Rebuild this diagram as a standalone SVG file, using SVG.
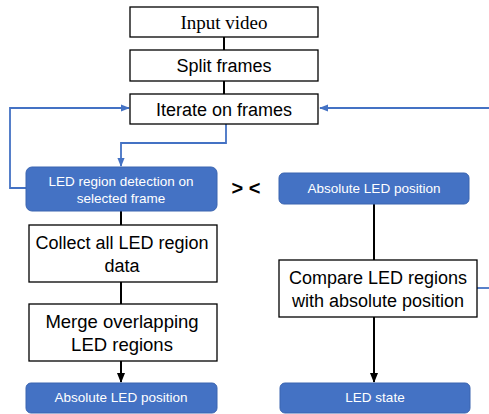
<svg xmlns="http://www.w3.org/2000/svg" width="489" height="414" viewBox="0 0 489 414">
<defs>
<marker id="ab" viewBox="0 0 10 10" refX="9" refY="5" markerWidth="5" markerHeight="5" orient="auto"><path d="M0,1 L10,5 L0,9 z" fill="#4472C4"/></marker>
<marker id="ak" viewBox="0 0 10 10" refX="9" refY="5" markerWidth="5" markerHeight="5" orient="auto"><path d="M0,1 L10,5 L0,9 z" fill="#000"/></marker>
</defs>
<style>
.w{fill:#fff;stroke:#000;stroke-width:1.3}
.b{fill:#4472C4;stroke:#3a64b0;stroke-width:1}
.t{font-family:"Liberation Sans",Arial,sans-serif;font-size:18px;fill:#000;text-anchor:middle}
.s{font-family:"Liberation Serif","Times New Roman",serif;font-size:19px;fill:#000;text-anchor:middle}
.tw{font-family:"Liberation Sans",Arial,sans-serif;font-size:13.5px;fill:#fff;text-anchor:middle}
.k{stroke:#000;stroke-width:2;fill:none}
.bl{stroke:#4472C4;stroke-width:1.8;fill:none}
</style>
<rect width="489" height="414" fill="#fff"/>
<g id="connectors">
<line class="k" x1="224" y1="37" x2="224" y2="50"/>
<line class="k" x1="224" y1="81" x2="224" y2="94"/>
<polyline class="bl" points="226,124 226,143 121,143 121,166" marker-end="url(#ab)"/>
<polyline class="bl" points="26,188 10,188 10,108 129,108" marker-end="url(#ab)"/>
<polyline class="bl" points="489,108 320,108" marker-end="url(#ab)"/>
<line class="bl" x1="477" y1="288" x2="489" y2="288"/>
<line class="k" x1="121" y1="211" x2="121" y2="225"/>
<line class="k" x1="121" y1="282" x2="121" y2="304"/>
<line class="k" x1="121" y1="361" x2="121" y2="382" marker-end="url(#ak)"/>
<line class="k" x1="374" y1="204" x2="374" y2="260"/>
<line class="k" x1="374" y1="317" x2="374" y2="382" marker-end="url(#ak)"/>
</g>
<g id="input-video"><rect class="w" x="130" y="7" width="188" height="30"/><text class="s" x="224" y="29">Input video</text></g>
<g id="split-frames"><rect class="w" x="130" y="50" width="188" height="31"/><text class="t" x="224" y="72">Split frames</text></g>
<g id="iterate-frames"><rect class="w" x="130" y="94" width="188" height="30"/><text class="t" x="224" y="116">Iterate on frames</text></g>
<g id="led-detection"><rect class="b" x="26" y="167" width="191" height="44" rx="6"/><text class="tw" x="121" y="186">LED region detection on</text><text class="tw" x="121" y="203">selected frame</text></g>
<g id="compare-symbols"><text x="246" y="195" style="font-family:'Liberation Sans',Arial,sans-serif;font-size:20px;font-weight:bold;text-anchor:middle">&gt; &lt;</text></g>
<g id="abs-pos-top"><rect class="b" x="279" y="173" width="190" height="31" rx="5"/><text class="tw" x="374" y="193">Absolute LED position</text></g>
<g id="collect"><rect class="w" x="29" y="225" width="188" height="57"/><text class="t" x="122" y="249">Collect all LED region</text><text class="t" x="122" y="272">data</text></g>
<g id="merge"><rect class="w" x="29" y="304" width="188" height="57"/><text class="t" x="122" y="328" style="font-size:18.5px">Merge overlapping</text><text class="t" x="122" y="351" style="font-size:18.5px">LED regions</text></g>
<g id="abs-pos-bottom"><rect class="b" x="26" y="383" width="191" height="30" rx="5"/><text class="tw" x="121" y="402">Absolute LED position</text></g>
<g id="compare"><rect class="w" x="279" y="260" width="198" height="57"/><text class="t" x="378" y="284">Compare LED regions</text><text class="t" x="378" y="307">with absolute position</text></g>
<g id="led-state"><rect class="b" x="280" y="383" width="190" height="30" rx="5"/><text class="tw" x="375" y="402">LED state</text></g>
</svg>
